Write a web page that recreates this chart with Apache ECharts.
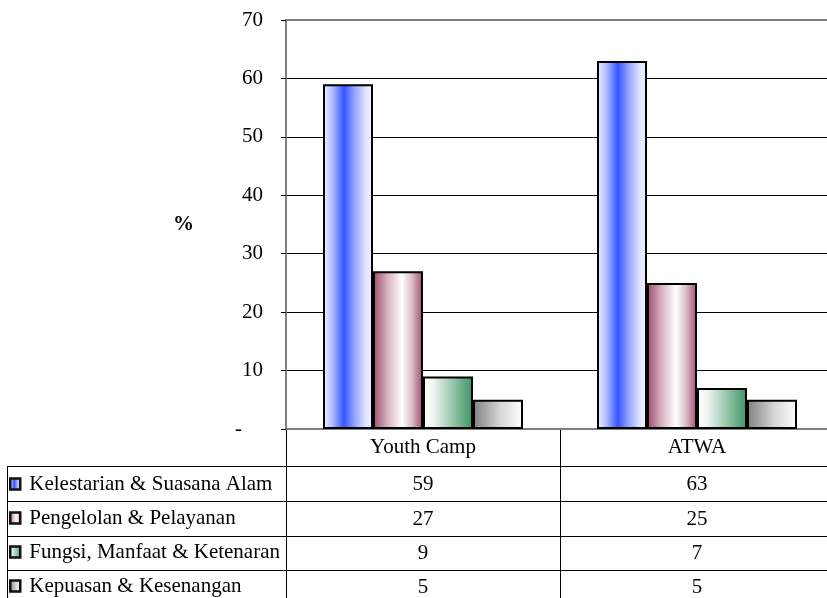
<!DOCTYPE html>
<html>
<head>
<meta charset="utf-8">
<script src="https://cdn.jsdelivr.net/npm/echarts@6/dist/echarts.min.js"></script>
<style>
  html, body { margin: 0; padding: 0; background: #fff; }
  #chart { width: 827px; height: 598px; }
</style>
</head>
<body>
<div id="chart"></div>
<script>
// Survey categories and their percentage shares
const categories = ['Youth Camp', 'ATWA'];
const seriesNames = [
  'Kelestarian & Suasana Alam',
  'Pengelolan & Pelayanan',
  'Fungsi, Manfaat & Ketenaran',
  'Kepuasan & Kesenangan'
];
const kelestarian = [59, 63];
const pengelolan = [27, 25];
const fungsi = [9, 7];
const kepuasan = [5, 5];
const seriesValues = [kelestarian, pengelolan, fungsi, kepuasan];

const FONT = 'Liberation Serif, Times New Roman, serif';
const FS = 21;

function hGrad(stops) {
  return new echarts.graphic.LinearGradient(0, 0, 1, 0,
    stops.map(s => ({ offset: s[0], color: s[1] })));
}

const fills = [
  hGrad([[0, '#f2f2ff'], [0.18, '#b4bfff'], [0.42, '#3355ff'], [0.62, '#8fa0ff'], [0.85, '#dfe3ff'], [1, '#f2f2ff']]),
  hGrad([[0, '#9c4a6c'], [0.3, '#d8b4c2'], [0.58, '#ffffff'], [0.78, '#dcbcc8'], [1, '#9c4a6c']]),
  hGrad([[0, '#ffffff'], [0.2, '#f0f6f2'], [1, '#3a9463']]),
  hGrad([[0, '#7f7f7f'], [0.55, '#d6d6d6'], [1, '#ffffff']])
];

const chart = echarts.init(document.getElementById('chart'), null, { renderer: 'canvas' });

const option = {
  animation: false,
  backgroundColor: '#ffffff',
  textStyle: { fontFamily: FONT, color: '#000' },
  grid: {
    left: 286, top: 20, width: 548, height: 409,
    outerBoundsMode: 'none',
    containLabel: false,
    show: true, borderColor: '#808080', borderWidth: 2, backgroundColor: 'transparent'
  },
  legend: {
    orient: 'vertical',
    left: 9, top: 473,
    height: 200,
    padding: 0,
    itemWidth: 10, itemHeight: 11,
    itemGap: 12,
    icon: 'rect',
    selectedMode: false,
    itemStyle: { borderColor: '#111', borderWidth: 2.5 },
    textStyle: { fontFamily: FONT, fontSize: FS, color: '#000', lineHeight: 22, padding: [0, 0, 0, 4] },
    data: seriesNames
  },
  xAxis: {
    type: 'category',
    data: categories,
    axisLine: { lineStyle: { color: '#808080', width: 2 } },
    axisTick: { show: false },
    axisLabel: { fontFamily: FONT, fontSize: FS, color: '#000', margin: 8 }
  },
  yAxis: {
    type: 'value',
    min: 0, max: 70, interval: 10,
    name: '%',
    nameLocation: 'middle',
    nameRotate: 0,
    nameGap: 92,
    nameTextStyle: { fontFamily: FONT, fontSize: FS, fontWeight: 'bold', color: '#000', align: 'right' },
    axisLine: { show: true, lineStyle: { color: '#808080', width: 2 } },
    axisTick: { show: true, length: 5, lineStyle: { color: '#000' } },
    axisLabel: {
      fontFamily: FONT, fontSize: FS, color: '#000', margin: 23,
      formatter: v => (v === 0 ? '-    ' : String(v))
    },
    splitLine: {
      show: true,
      lineStyle: { color: ['#000', '#000', '#000', '#000', '#000', '#000', '#000', 'transparent'], width: 1 }
    }
  },
  series: seriesNames.map((name, i) => ({
    name: name,
    type: 'bar',
    data: seriesValues[i],
    barWidth: 50,
    barGap: '0%',
    itemStyle: { color: fills[i], borderColor: '#000', borderWidth: 2 }
  }))
};

chart.setOption(option);

// Data table beneath the plot: grid lines and values aligned to the category axis
const rect = chart.getModel().getComponent('grid').coordinateSystem.getRect();
const gridBottom = rect.y + rect.height;
const rowLines = [466, 501, 536, 570];
const rowCenters = [484, 519, 553, 587];
const tableLeft = 7;
const W = 827, H = 598;
const lineStyle = { stroke: '#000', lineWidth: 1 };
const graphics = [];

// vertical lines: left edge of the label column and category boundaries
graphics.push({ type: 'line', shape: { x1: tableLeft + 0.5, y1: rowLines[0], x2: tableLeft + 0.5, y2: H }, style: lineStyle });
for (let c = 0; c <= categories.length; c++) {
  const x = Math.round(rect.x + rect.width * c / categories.length) + 0.5;
  graphics.push({ type: 'line', shape: { x1: x, y1: gridBottom, x2: x, y2: H }, style: lineStyle });
}
// horizontal row separators
rowLines.forEach(y => {
  graphics.push({ type: 'line', shape: { x1: tableLeft, y1: y + 0.5, x2: W, y2: y + 0.5 }, style: lineStyle });
});
// values
seriesValues.forEach((vals, r) => {
  vals.forEach((v, c) => {
    const cx = chart.convertToPixel({ xAxisIndex: 0 }, categories[c]);
    graphics.push({
      type: 'text',
      x: cx, y: rowCenters[r],
      style: { text: String(v), fontFamily: FONT, fontSize: FS, fill: '#000', align: 'center', verticalAlign: 'middle' }
    });
  });
});

chart.setOption({ graphic: graphics });
</script>
</body>
</html>
